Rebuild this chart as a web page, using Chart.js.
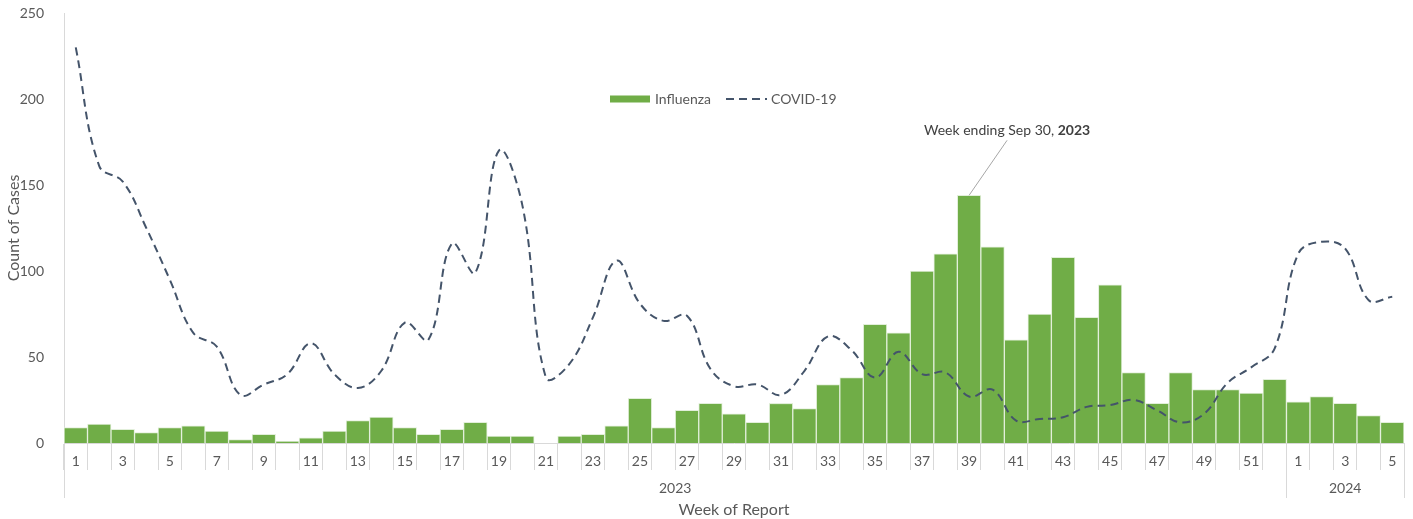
<!DOCTYPE html>
<html lang="en">
<head>
    <meta charset="UTF-8">
    <title>Influenza and COVID-19 Cases by Week</title>
    <style>
        body { margin: 0; background: #fff; }
        #chart-container { width: 1413px; height: 519px; }
    </style>
    <script src="https://cdn.jsdelivr.net/npm/chart.js"></script>
</head>
<body>
<div id="chart-container">
    <canvas id="casesChart"></canvas>
</div>
<script>
    // week labels: 52 weeks of 2023, then 5 weeks of 2024
    const weeks = [];
    for (let w = 1; w <= 52; w++) weeks.push(String(w));
    for (let w = 1; w <= 5; w++) weeks.push(String(w));
    const years = ['2023', '2024'];
    const weeksPerYear = [52, 5];

    const influenza = [9, 11, 8, 6, 9, 10, 7, 2, 5, 1,
        3, 7, 13, 15, 9, 5, 8, 12, 4, 4,
        0, 4, 5, 10, 26, 9, 19, 23, 17, 12,
        23, 20, 34, 38, 69, 64, 100, 110, 144, 114,
        60, 75, 108, 73, 92, 41, 23, 41, 31, 31,
        29, 37, 24, 27, 23, 16, 12];
    const covid = [230, 161, 152, 125, 95, 64, 56, 28, 34, 40,
        58, 40, 32, 42, 70, 60, 116, 99, 170, 138,
        38, 46, 73, 106, 81, 71, 74, 43, 33, 34,
        28, 42, 62, 54, 38, 53, 40, 41, 27, 31,
        13, 14, 15, 21, 22, 25, 19, 12, 17, 35,
        44, 55, 110, 117, 113, 83, 85];
    const yTicks = [0, 50, 100, 150, 200, 250];

    const calloutIndex = 38; // week 39 of 2023
    const calloutText = 'Week ending Sep 30, ';
    const calloutBold = '2023';

    const FONT = 'Lato, "Open Sans", sans-serif';
    const GREEN = '#70AD47';
    const NAVY = '#44546A';
    const GRID = '#D9D9D9';
    const TEXT = '#595959';
    const DASH = [8, 5];

    // draws the year row, legend and callout
    const extras = {
        id: 'extras',
        afterDraw(chart) {
            const ctx = chart.ctx;
            const x = chart.scales.x;
            const y = chart.scales.y;
            const area = chart.chartArea;
            const half = (x.getPixelForValue(1) - x.getPixelForValue(0)) / 2;
            ctx.save();

            // year group separators + labels
            ctx.strokeStyle = GRID;
            ctx.lineWidth = 1;
            let start = 0;
            const bounds = [area.left];
            years.forEach((yr, i) => {
                const end = start + weeksPerYear[i] - 1;
                const left = x.getPixelForValue(start) - half;
                const right = x.getPixelForValue(end) + half;
                bounds.push(right);
                ctx.fillStyle = TEXT;
                ctx.font = '14px ' + FONT;
                ctx.textAlign = 'center';
                ctx.textBaseline = 'middle';
                ctx.fillText(yr, (left + right) / 2, area.bottom + 45);
                start = end + 1;
            });
            bounds.forEach(b => {
                const bx = Math.round(b) + 0.5;
                ctx.beginPath();
                ctx.moveTo(bx, area.bottom);
                ctx.lineTo(bx, area.bottom + 55);
                ctx.stroke();
            });

            // legend
            const ly = area.top + 86;
            let lx = area.left + 546;
            ctx.fillStyle = GREEN;
            ctx.fillRect(lx, ly - 3.5, 40, 7);
            ctx.fillStyle = TEXT;
            ctx.font = '14px ' + FONT;
            ctx.textAlign = 'left';
            ctx.textBaseline = 'middle';
            ctx.fillText('Influenza', lx + 45, ly);
            lx = lx + 116;
            ctx.strokeStyle = NAVY;
            ctx.lineWidth = 2;
            ctx.setLineDash(DASH);
            ctx.beginPath();
            ctx.moveTo(lx, ly);
            ctx.lineTo(lx + 41, ly);
            ctx.stroke();
            ctx.setLineDash([]);
            ctx.fillText('COVID-19', lx + 45, ly);

            // callout for the peak week
            const bx = x.getPixelForValue(calloutIndex);
            const by = y.getPixelForValue(influenza[calloutIndex]);
            const tx = bx + 38;
            const ty = by - 55;
            ctx.strokeStyle = '#A6A6A6';
            ctx.lineWidth = 1;
            ctx.beginPath();
            ctx.moveTo(bx, by);
            ctx.lineTo(tx, ty);
            ctx.stroke();
            ctx.font = '14px ' + FONT;
            const w1 = ctx.measureText(calloutText).width;
            ctx.font = 'bold 14px ' + FONT;
            const w2 = ctx.measureText(calloutBold).width;
            const sx = tx - (w1 + w2) / 2;
            ctx.fillStyle = '#404040';
            ctx.textBaseline = 'bottom';
            ctx.font = '14px ' + FONT;
            ctx.fillText(calloutText, sx, ty - 3);
            ctx.font = 'bold 14px ' + FONT;
            ctx.fillText(calloutBold, sx + w1, ty - 3);
            ctx.restore();
        }
    };

    const ctx = document.getElementById('casesChart').getContext('2d');
    new Chart(ctx, {
        data: {
            labels: weeks,
            datasets: [
                {
                    type: 'line',
                    label: 'COVID-19',
                    data: covid,
                    borderColor: NAVY,
                    borderWidth: 2,
                    borderDash: DASH,
                    pointRadius: 0,
                    tension: 0.4,
                    fill: false,
                    order: 0
                },
                {
                    type: 'bar',
                    label: 'Influenza',
                    data: influenza,
                    backgroundColor: GREEN,
                    borderColor: '#E2EFDA',
                    borderWidth: 1,
                    barPercentage: 1,
                    categoryPercentage: 1,
                    order: 1
                }
            ]
        },
        options: {
            responsive: true,
            maintainAspectRatio: false,
            animation: false,
            layout: { padding: { top: 13, right: 9, bottom: 0, left: 0 } },
            plugins: {
                legend: { display: false },
                tooltip: { enabled: false }
            },
            scales: {
                x: {
                    offset: true,
                    grid: {
                        offset: true,
                        drawOnChartArea: false,
                        drawTicks: true,
                        tickLength: 27,
                        color: GRID
                    },
                    border: { color: GRID },
                    ticks: {
                        autoSkip: false,
                        maxRotation: 0,
                        padding: -17,
                        color: TEXT,
                        font: { family: FONT, size: 14 },
                        callback: (v, i) => (i % 2 === 0 ? weeks[i] : '')
                    },
                    title: {
                        display: true,
                        text: 'Week of Report',
                        color: TEXT,
                        font: { family: FONT, size: 16 },
                        padding: { top: 0, bottom: 0 }
                    },
                    afterFit: s => { s.height = 76; }
                },
                y: {
                    min: 0,
                    max: 250,
                    afterBuildTicks: s => { s.ticks = yTicks.map(v => ({ value: v })); },
                    grid: { display: false },
                    border: { color: GRID },
                    ticks: {
                        padding: 12,
                        color: TEXT,
                        font: { family: FONT, size: 14 }
                    },
                    title: {
                        display: true,
                        text: 'Count of Cases',
                        color: TEXT,
                        font: { family: FONT, size: 16 },
                        padding: { top: 4, bottom: 0 }
                    },
                    afterFit: s => {
                        s.width = 64;
                        s.paddingTop = 0;
                        s.paddingBottom = 0;
                    }
                }
            }
        },
        plugins: [extras]
    });
</script>
</body>
</html>
